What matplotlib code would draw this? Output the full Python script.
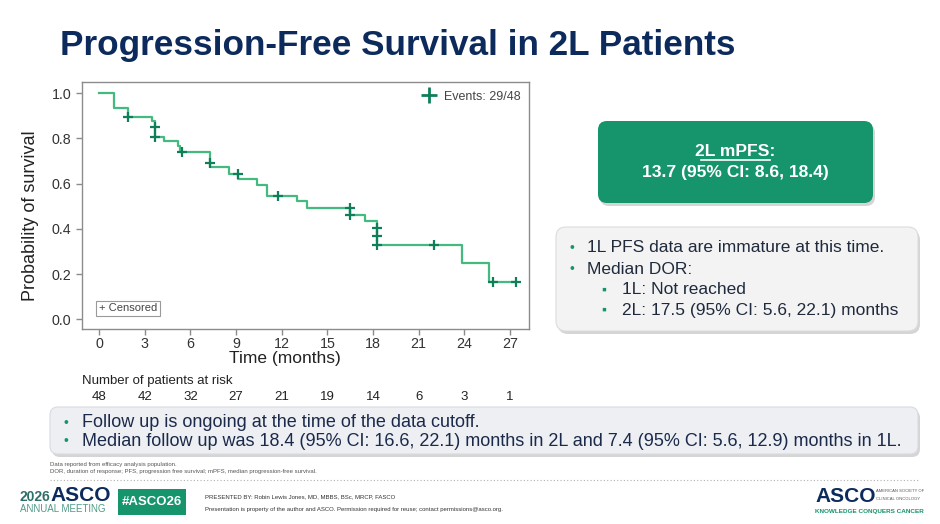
import matplotlib
matplotlib.use("Agg")
import matplotlib.pyplot as plt
from matplotlib.patches import FancyBboxPatch, Rectangle
from matplotlib.lines import Line2D
from matplotlib import font_manager

# ---------------- data ----------------
step_t = [0, 0.95, 1.90, 3.47, 3.65, 4.24, 5.18, 5.35, 7.26, 8.57, 9.15, 10.37, 11.05,
          12.99, 13.68, 16.52, 17.45, 18.28, 23.82, 25.64]
step_s = [1.0, 0.937, 0.894, 0.876, 0.807, 0.788, 0.765, 0.740, 0.674, 0.645, 0.622, 0.596,
          0.546, 0.522, 0.494, 0.463, 0.435, 0.330, 0.249, 0.165]
end_t = 27.40
cens_t = [1.90, 3.67, 3.70, 5.42, 7.30, 9.12, 11.75, 16.52, 16.52, 18.28, 18.28, 18.28,
          21.99, 25.86, 27.40]
cens_s = [0.894, 0.851, 0.807, 0.740, 0.693, 0.645, 0.546, 0.494, 0.463, 0.406, 0.369,
          0.330, 0.330, 0.165, 0.165]
xticks = [0, 3, 6, 9, 12, 15, 18, 21, 24, 27]
yticks = [0.0, 0.2, 0.4, 0.6, 0.8, 1.0]
at_risk = [48, 42, 32, 27, 21, 19, 14, 6, 3, 1]

title = "Progression-Free Survival in 2L Patients"
events_label = "Events: 29/48"
box_head = "2L mPFS:"
box_value = "13.7 (95% CI: 8.6, 18.4)"
right_bullets = ["1L PFS data are immature at this time.", "Median DOR:"]
right_sub = ["1L: Not reached", "2L: 17.5 (95% CI: 5.6, 22.1) months"]
bottom_bullets = ["Follow up is ongoing at the time of the data cutoff.",
                  "Median follow up was 18.4 (95% CI: 16.6, 22.1) months in 2L and 7.4 (95% CI: 5.6, 12.9) months in 1L."]
footnotes = ["Data reported from efficacy analysis population.",
             "DOR, duration of response; PFS, progression free survival; mPFS, median progression-free survival."]

# ---------------- style ----------------
plt.rcParams['font.family'] = ['Liberation Sans', 'DejaVu Sans']
names = {f.name for f in font_manager.fontManager.ttflist}
title_font = 'Liberation Sans Narrow' if 'Liberation Sans Narrow' in names else 'Liberation Sans'

LINE_GREEN = '#45ba80'
MARK_GREEN = '#0f7f5a'
BOX_GREEN = '#16946b'
NAVY = '#0c2b5c'
TXT = '#1f2a3c'

fig = plt.figure(figsize=(9.4, 5.24), dpi=100)

# overlay axes in pixel units
ov = fig.add_axes([0, 0, 1, 1])
ov.set_xlim(0, 940)
ov.set_ylim(524, 0)
ov.axis('off')

ov.text(60, 46, title, fontsize=25.3, fontweight='bold', color=NAVY, va='center', ha='left',
        family=[title_font, 'DejaVu Sans'])

def rbox(x0, y0, x1, y1, fc, ec='none', r=8, shadow=True):
    if shadow:
        ov.add_patch(FancyBboxPatch((x0 + 2, y0 + 3), x1 - x0, y1 - y0,
                                    boxstyle=f"round,pad=0,rounding_size={r}",
                                    fc='#c4c4c4', ec='none', alpha=0.7, zorder=1))
    ov.add_patch(FancyBboxPatch((x0, y0), x1 - x0, y1 - y0,
                                boxstyle=f"round,pad=0,rounding_size={r}",
                                fc=fc, ec=ec, lw=0.8, zorder=2))

# mPFS box
rbox(598, 121, 873, 203, BOX_GREEN, r=9)
ov.text(735.5, 151, box_head, fontsize=12.6, fontweight='bold', color='white',
        ha='center', va='center', zorder=3)
ov.plot([701, 770], [160, 160], color='white', lw=1.2, zorder=3)
ov.text(735.5, 173, box_value, fontsize=12.6, fontweight='bold', color='white',
        ha='center', va='center', zorder=3)

# right gray box
rbox(556, 227, 918, 331, '#f3f3f3', ec='#dcdcdc', r=10)
for yv, s in zip([248, 269], right_bullets):
    ov.text(569, yv, "\u2022", fontsize=10, color=BOX_GREEN, ha='left', va='center', zorder=3)
    ov.text(587, yv, s, fontsize=12.5, color=TXT, ha='left', va='center', zorder=3)
for yv, s in zip([290, 310], right_sub):
    ov.text(601, yv, "\u25aa", fontsize=10, color=BOX_GREEN, ha='left', va='center', zorder=3)
    ov.text(622, yv, s, fontsize=12.5, color=TXT, ha='left', va='center', zorder=3)

# bottom box
rbox(50, 407, 918, 454, '#edeff3', ec='#d8dbe2', r=8)
for yv, s in zip([422.5, 441], bottom_bullets):
    ov.text(63, yv, "\u2022", fontsize=10, color=BOX_GREEN, ha='left', va='center', zorder=3)
    ov.text(82, yv, s, fontsize=13.0, color='#1b2a4a', ha='left', va='center', zorder=3)

# footnotes
for yv, s in zip([464.5, 471.5], footnotes):
    ov.text(50, yv, s, fontsize=4.3, color='#555555', ha='left', va='center')

# dotted separator
ov.plot([50, 918], [480, 480], color='#b0b0b0', lw=0.8, ls=(0, (1, 2)))

# footer logos
ov.text(20, 497, "2026", fontsize=10, color='#2f6f6a', ha='left', va='center', fontweight='bold')
ov.text(50, 495.5, "ASCO", fontsize=15, color=NAVY, ha='left', va='center', fontweight='bold',
        family=[title_font, 'DejaVu Sans'])
ov.text(20, 509.5, "ANNUAL MEETING", fontsize=7, color='#4f9a86', ha='left', va='center')
ov.add_patch(Rectangle((118, 489), 68, 26, fc=BOX_GREEN, ec='none'))
ov.text(152, 502, "#ASCO26", fontsize=9.5, color='white', ha='center', va='center', fontweight='bold')
ov.text(205, 497, "PRESENTED BY: Robin Lewis Jones, MD, MBBS, BSc, MRCP, FASCO", fontsize=4.3,
        color='#333333', ha='left', va='center')
ov.text(205, 509.5, "Presentation is property of the author and ASCO. Permission required for reuse; contact permissions@asco.org.",
        fontsize=4.3, color='#333333', ha='left', va='center')
ov.text(815, 496, "ASCO", fontsize=15, color=NAVY, ha='left', va='center', fontweight='bold',
        family=[title_font, 'DejaVu Sans'])
ov.text(876, 491.5, "AMERICAN SOCIETY OF", fontsize=3.0, color='#555555', ha='left', va='center')
ov.text(876, 498.5, "CLINICAL ONCOLOGY", fontsize=3.0, color='#555555', ha='left', va='center')
ov.text(815, 511, "KNOWLEDGE CONQUERS CANCER", fontsize=4.6, color=BOX_GREEN, ha='left',
        va='center', fontweight='bold')

# ---------------- KM plot ----------------
W, H = 940, 524
left, right, top, bottom = 81.7, 529, 82, 329
ax = fig.add_axes([left / W, 1 - bottom / H, (right - left) / W, (bottom - top) / H])
ax.step(step_t + [end_t], step_s + [step_s[-1]], where='post', color=LINE_GREEN, lw=1.6, zorder=2)
ax.plot(cens_t, cens_s, ls='none', marker='+', ms=7, mew=1.6, color=MARK_GREEN, zorder=3)
ax.set_xlim(-1.14, 28.25)
ax.set_ylim(-0.043, 1.05)
ax.set_xticks(xticks)
ax.set_yticks(yticks)
ax.set_yticklabels([f"{v:.1f}" for v in yticks])
for sp in ax.spines.values():
    sp.set_color('#8c8c8c')
    sp.set_linewidth(1.0)
ax.tick_params(axis='both', colors='#8c8c8c', labelcolor='#333333', labelsize=10.3, length=4, width=1)
ax.tick_params(axis='x', pad=2)
ax.set_xlabel("Time (months)", fontsize=12.5, color='#222222')
ax.xaxis.set_label_coords((285 - left) / (right - left), -(358 - bottom) / (bottom - top))
ax.xaxis.label.set_va('center')
ax.set_ylabel("Probability of survival", fontsize=13, color='#222222')
ax.yaxis.set_label_coords(-(left - 31) / (right - left), 0.46)
ax.yaxis.label.set_va('center')

h = Line2D([], [], ls='none', marker='+', ms=11, mew=2, color=MARK_GREEN)
ax.legend([h], [events_label], loc='upper right', frameon=False, fontsize=9,
          handletextpad=0.2, borderaxespad=0.3, labelcolor='#444444')

ax.text(0.0, 0.048, "+ Censored", fontsize=8, color='#444444', ha='left', va='center',
        bbox=dict(boxstyle='square,pad=0.25', fc='white', ec='#9a9a9a', lw=0.8))

# at-risk table
yscale = 1.093 / (bottom - top)
def ydata(py):
    return -0.043 - (py - bottom) * yscale
ax.text(-1.14, ydata(381), "Number of patients at risk", fontsize=9.5,
        color='#222222', ha='left', va='center', clip_on=False)
for t, n in zip(xticks, at_risk):
    ax.text(t, ydata(397), str(n), fontsize=9.5, color='#222222', ha='center', va='center', clip_on=False)

fig.savefig("out.png", dpi=100)
